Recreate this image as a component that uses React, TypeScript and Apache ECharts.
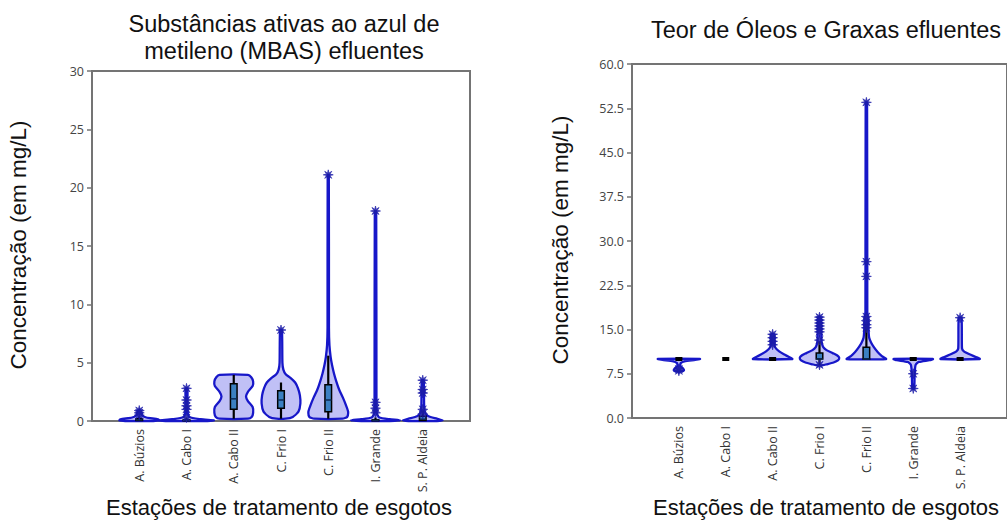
import React, { useEffect, useRef } from "react";
import * as echarts from "echarts";

// ---------- data ----------
const stations = ["A. Búzios", "A. Cabo I", "A. Cabo II", "C. Frio I", "C. Frio II", "I. Grande", "S. P. Aldeia"];

const mbasTicks = [0, 5, 10, 15, 20, 25, 30];
const ogTicks = [0, 7.5, 15, 22.5, 30, 37.5, 45, 52.5, 60];

// violin outline per station: [value, half width (in category units)]
const mbasProfiles: number[][][] = [
  [[0.0, 0.3], [0.04, 0.42], [0.15, 0.4], [0.3, 0.15], [0.5, 0.06], [0.9, 0.03]],
  [[0.0, 0.4], [0.05, 0.58], [0.15, 0.3], [0.35, 0.06], [1.0, 0.02], [2.8, 0.02]],
  [[0.2, 0.3], [0.35, 0.38], [0.7, 0.41], [1.2, 0.4], [1.7, 0.3], [2.1, 0.26], [2.5, 0.3], [3.0, 0.4], [3.4, 0.41], [3.75, 0.37], [3.95, 0.3]],
  [[0.2, 0.1], [0.35, 0.25], [0.8, 0.37], [1.5, 0.41], [2.2, 0.4], [2.8, 0.36], [3.3, 0.3], [3.7, 0.2], [4.0, 0.1], [4.4, 0.05], [5.0, 0.03], [7.8, 0.02]],
  [[0.2, 0.3], [0.35, 0.4], [0.8, 0.42], [1.3, 0.38], [2.0, 0.31], [2.7, 0.23], [3.4, 0.17], [4.1, 0.12], [4.8, 0.08], [5.5, 0.05], [6.5, 0.025], [8.0, 0.015], [21.1, 0.012]],
  [[0.0, 0.3], [0.06, 0.52], [0.15, 0.3], [0.3, 0.08], [0.6, 0.03], [1.6, 0.02], [18.0, 0.015]],
  [[0.0, 0.3], [0.06, 0.42], [0.2, 0.3], [0.4, 0.12], [0.7, 0.05], [1.2, 0.03], [3.5, 0.02]],
];
// [whisker low, q1, median, q3, whisker high]
const mbasBoxes: number[][] = [
  [0, 0.05, 0.1, 0.2, 0.4],
  [0, 0.02, 0.05, 0.1, 0.3],
  [0.2, 1.0, 1.9, 3.2, 3.95],
  [0.2, 1.1, 1.8, 2.6, 3.3],
  [0.2, 0.8, 1.8, 3.1, 5.6],
  [0, 0.02, 0.05, 0.1, 0.3],
  [0, 0.05, 0.15, 0.4, 0.9],
];
const mbasOutliers: number[][] = [
  [0.9, 0.7, 0.5],
  [2.8, 1.8, 1.3, 1.0, 0.3],
  [],
  [7.8],
  [21.1],
  [18.0, 1.6, 1.1, 0.7],
  [3.5, 2.7, 2.4, 1.0, 0.6],
];

const ogProfiles: number[][][] = [
  [[7.9, 0.06], [8.1, 0.11], [8.4, 0.09], [8.8, 0.03], [9.3, 0.04], [9.6, 0.12], [9.85, 0.35], [10.0, 0.45]],
  [],
  [[10, 0.42], [10.3, 0.36], [10.8, 0.24], [11.3, 0.14], [11.8, 0.07], [12.3, 0.04], [14.2, 0.03]],
  [[8.9, 0.04], [9.1, 0.15], [9.4, 0.3], [9.8, 0.4], [10.2, 0.42], [10.6, 0.38], [11.0, 0.28], [11.5, 0.15], [12.0, 0.08], [12.7, 0.05], [13.5, 0.04], [17.1, 0.03]],
  [[10, 0.42], [10.5, 0.33], [11.2, 0.24], [12.0, 0.16], [12.8, 0.1], [13.6, 0.06], [15.0, 0.045], [16.5, 0.04], [18.0, 0.02], [53.5, 0.015]],
  [[5.0, 0.02], [7.5, 0.03], [9.0, 0.05], [9.5, 0.12], [9.8, 0.35], [10.0, 0.42]],
  [[10, 0.42], [10.3, 0.35], [10.8, 0.2], [11.3, 0.08], [11.8, 0.04], [17.0, 0.03]],
];
const ogBoxes: number[][] = [
  [10, 10, 10, 10, 10],
  [10, 10, 10, 10, 10],
  [10, 10, 10, 10, 10],
  [9, 10, 10, 11, 13],
  [10, 10, 10, 12, 16],
  [10, 10, 10, 10, 10],
  [10, 10, 10, 10, 10],
];
const ogOutliers: number[][] = [
  [8.0, 8.3],
  [],
  [14.2, 13.6, 13.0, 12.4],
  [17.1, 16.6, 16.1, 15.6, 15.1, 14.6, 13.2, 9.0],
  [53.5, 26.5, 24.0, 17.2, 16.5, 15.8, 15.3],
  [7.5, 5.0],
  [17.0],
];

// ---------- styling ----------
const VIOLIN_FILL = "rgba(150,150,240,0.6)";
const VIOLIN_STROKE = "#1717c9";
const STAR_COLOR = "#1c1ca8";
const BOX_FILL = "#3b80c2";
const AXIS_COLOR = "#747474";
const TEXT_FONT = "'Liberation Sans', Arial, sans-serif";
const TICK_FONT = "'Open Sans', 'Noto Sans', sans-serif";

function starPath(): string {
  const pts: string[] = [];
  for (let k = 0; k < 16; k++) {
    const r = k % 2 === 0 ? 10 : 3.8;
    const a = (Math.PI * 2 * k) / 16 - Math.PI / 2;
    pts.push(`${(10 + r * Math.cos(a)).toFixed(2)},${(10 + r * Math.sin(a)).toFixed(2)}`);
  }
  return "path://M" + pts.join(" L") + " Z";
}
const STAR = starPath();

function violinRender(profiles: number[][][], boxes: number[][]) {
  return (params: any, api: any) => {
    const i = params.dataIndex;
    const cx = api.value(0);
    const prof = profiles[i];
    const box = boxes[i];
    const children: any[] = [];
    if (prof && prof.length) {
      const pts: number[][] = [];
      for (const [v, hw] of prof) pts.push(api.coord([cx + hw, v]));
      for (let k = prof.length - 1; k >= 0; k--) pts.push(api.coord([cx - prof[k][1], prof[k][0]]));
      children.push({
        type: "polygon",
        shape: { points: pts, smooth: 0.2 },
        style: { fill: VIOLIN_FILL, stroke: VIOLIN_STROKE, lineWidth: 2.3, lineJoin: "round" },
      });
    }
    if (box) {
      const [lo, q1, med, q3, hi] = box;
      const pLo = api.coord([cx, lo]);
      const pHi = api.coord([cx, hi]);
      const pQ1 = api.coord([cx - 0.07, q1]);
      const pQ3 = api.coord([cx + 0.07, q3]);
      if (hi > lo) {
        children.push({
          type: "line",
          shape: { x1: pLo[0], y1: pLo[1], x2: pHi[0], y2: pHi[1] },
          style: { stroke: "#000", lineWidth: 2.2 },
        });
      }
      if (q3 - q1 > 0) {
        children.push({
          type: "rect",
          shape: { x: pQ1[0], y: pQ3[1], width: pQ3[0] - pQ1[0], height: pQ1[1] - pQ3[1] },
          style: { fill: BOX_FILL, stroke: "#000", lineWidth: 1.5 },
        });
        const pm1 = api.coord([cx - 0.07, med]);
        const pm2 = api.coord([cx + 0.07, med]);
        children.push({
          type: "line",
          shape: { x1: pm1[0], y1: pm1[1], x2: pm2[0], y2: pm2[1] },
          style: { stroke: "#0c2a55", lineWidth: 1.5 },
        });
      } else {
        const a = api.coord([cx - 0.075, med]);
        const b = api.coord([cx + 0.075, med]);
        children.push({
          type: "rect",
          shape: { x: a[0], y: a[1] - 2, width: b[0] - a[0], height: 4 },
          style: { fill: "#000" },
        });
      }
    }
    return { type: "group", children };
  };
}

function stationIndexData() {
  return stations.map((_, i) => [i + 1]);
}

function outlierData(out: number[][]) {
  const d: number[][] = [];
  out.forEach((vals, i) => vals.forEach((v) => d.push([i + 1, v])));
  return d;
}

function xAxisFor(gridIndex: number) {
  return {
    type: "value",
    gridIndex,
    min: 0,
    max: 8,
    interval: 1,
    axisLine: { show: true, lineStyle: { color: AXIS_COLOR, width: 2 } },
    axisTick: { show: false },
    splitLine: { show: false },
    axisLabel: {
      rotate: 90,
      margin: 8,
      color: "#333",
      fontFamily: TICK_FONT,
      fontSize: 12.5,
      formatter: (v: number) => (v >= 1 && v <= 7 ? stations[v - 1] : ""),
    },
  };
}

function yAxisFor(gridIndex: number, ticks: number[], decimals: number) {
  const step = ticks[1] - ticks[0];
  return {
    type: "value",
    gridIndex,
    min: ticks[0],
    max: ticks[ticks.length - 1],
    interval: step,
    axisLine: { show: true, lineStyle: { color: AXIS_COLOR, width: 2 } },
    axisTick: { show: true, length: 5, lineStyle: { color: AXIS_COLOR, width: 1.5 } },
    splitLine: { show: false },
    axisLabel: {
      margin: 8,
      color: "#444",
      fontFamily: TICK_FONT,
      fontSize: 12.5,
      formatter: (v: number) => v.toFixed(decimals),
    },
  };
}

export default function App() {
  const ref = useRef<HTMLDivElement>(null);
  useEffect(() => {
    if (!ref.current) return;
    const chart = echarts.init(ref.current, null, { renderer: "svg" });
    chart.setOption({
      animation: false,
      backgroundColor: "#ffffff",
      title: [
        {
          text: "Substâncias ativas ao azul de\nmetileno (MBAS) efluentes",
          left: 279,
          top: 5,
          textAlign: "center",
          textStyle: { fontFamily: TEXT_FONT, fontSize: 23.5, fontWeight: "normal", color: "#111", lineHeight: 27 },
        },
        {
          text: "Teor de Óleos e Graxas efluentes",
          left: 821,
          top: 13,
          textAlign: "center",
          textStyle: { fontFamily: TEXT_FONT, fontSize: 23.5, fontWeight: "normal", color: "#111" },
        },
      ],
      grid: [
        { left: 92, top: 71, width: 378, height: 350, show: true, borderColor: AXIS_COLOR, borderWidth: 2, backgroundColor: "transparent" },
        { left: 632, top: 64, width: 380, height: 354, show: true, borderColor: AXIS_COLOR, borderWidth: 2, backgroundColor: "transparent" },
      ],
      xAxis: [xAxisFor(0), xAxisFor(1)],
      yAxis: [yAxisFor(0, mbasTicks, 0), yAxisFor(1, ogTicks, 1)],
      graphic: [
        { type: "text", x: 18, y: 245, rotation: Math.PI / 2, style: { text: "Concentração (em mg/L)", font: `22.5px ${TEXT_FONT}`, fill: "#111", textAlign: "center", textVerticalAlign: "middle" } },
        { type: "text", x: 560, y: 240, rotation: Math.PI / 2, style: { text: "Concentração (em mg/L)", font: `22.5px ${TEXT_FONT}`, fill: "#111", textAlign: "center", textVerticalAlign: "middle" } },
        { type: "text", x: 279, y: 507, style: { text: "Estações de tratamento de esgotos", font: `22px ${TEXT_FONT}`, fill: "#111", textAlign: "center", textVerticalAlign: "middle" } },
        { type: "text", x: 826, y: 507, style: { text: "Estações de tratamento de esgotos", font: `22px ${TEXT_FONT}`, fill: "#111", textAlign: "center", textVerticalAlign: "middle" } },
      ],
      series: [
        {
          type: "custom",
          xAxisIndex: 0,
          yAxisIndex: 0,
          data: stationIndexData(),
          encode: { x: 0 },
          renderItem: violinRender(mbasProfiles, mbasBoxes),
          z: 2,
        },
        {
          type: "scatter",
          xAxisIndex: 0,
          yAxisIndex: 0,
          data: outlierData(mbasOutliers),
          symbol: STAR,
          symbolSize: 10,
          itemStyle: { color: STAR_COLOR, borderColor: STAR_COLOR, borderWidth: 0.8 },
          z: 3,
        },
        {
          type: "custom",
          xAxisIndex: 1,
          yAxisIndex: 1,
          data: stationIndexData(),
          encode: { x: 0 },
          renderItem: violinRender(ogProfiles, ogBoxes),
          z: 2,
        },
        {
          type: "scatter",
          xAxisIndex: 1,
          yAxisIndex: 1,
          data: outlierData(ogOutliers),
          symbol: STAR,
          symbolSize: 10,
          itemStyle: { color: STAR_COLOR, borderColor: STAR_COLOR, borderWidth: 0.8 },
          z: 3,
        },
      ],
    });
    return () => chart.dispose();
  }, []);
  return <div ref={ref} style={{ position: "fixed", left: 0, top: 0, width: 1007, height: 524 }} />;
}
